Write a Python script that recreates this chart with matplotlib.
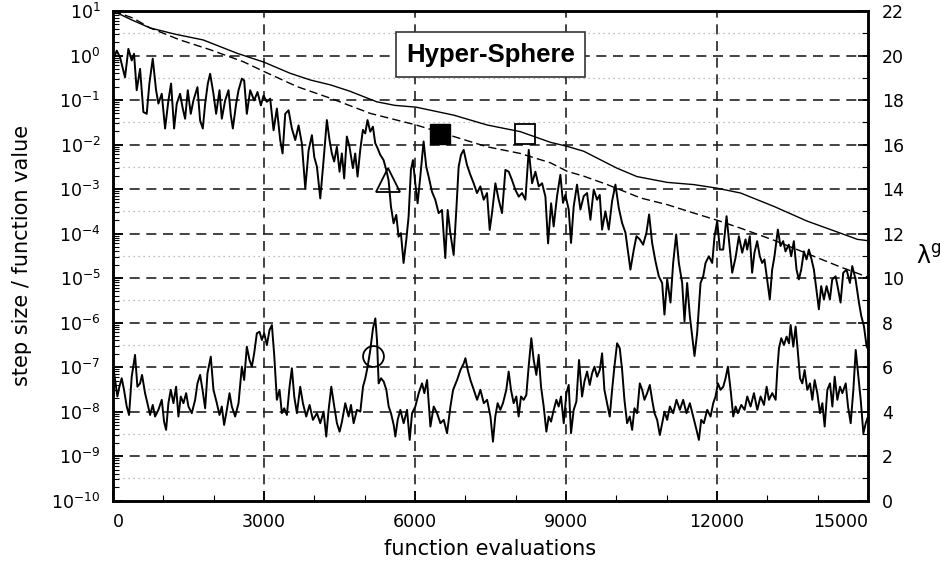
import numpy as np
import matplotlib
matplotlib.use("Agg")
import matplotlib.pyplot as plt
from matplotlib.ticker import FixedLocator, NullFormatter

plt.rcParams['font.family'] = ['DejaVu Sans']
plt.rcParams['mathtext.fontset'] = 'dejavusans'

# ---- data ----
# function value (log10), noisy curve
f_evals = [0, 73, 139, 238, 305, 371, 417, 470, 537, 603,
           669, 722, 789, 855, 901, 968, 1034, 1100, 1153, 1213,
           1266, 1332, 1385, 1432, 1485, 1544, 1597, 1677, 1730, 1783,
           1830, 1883, 1929, 1995, 2048, 2115, 2161, 2227, 2294, 2340,
           2380, 2446, 2493, 2559, 2605, 2658, 2725, 2804, 2870, 2937,
           2990, 3056, 3122, 3189, 3255, 3321, 3368, 3421, 3487, 3553,
           3620, 3686, 3752, 3819, 3885, 3951, 3998, 4051, 4117, 4183,
           4248, 4301, 4347, 4393, 4447, 4500, 4546, 4592, 4645, 4698,
           4765, 4811, 4858, 4911, 4964, 5010, 5056, 5110, 5163, 5209,
           5255, 5308, 5375, 5428, 5474, 5521, 5574, 5627, 5673, 5719,
           5772, 5826, 5872, 5918, 5958, 6005, 6051, 6104, 6170, 6223,
           6270, 6336, 6402, 6469, 6535, 6601, 6648, 6701, 6767, 6820,
           6866, 6913, 6966, 7032, 7099, 7165, 7231, 7297, 7364, 7430,
           7483, 7529, 7596, 7662, 7728, 7795, 7861, 7927, 7994, 8060,
           8126, 8192, 8259, 8325, 8391, 8458, 8524, 8590, 8643, 8703,
           8754, 8821, 8887, 8940, 8986, 9053, 9099, 9152, 9218, 9285,
           9351, 9417, 9484, 9550, 9616, 9669, 9716, 9782, 9848, 9915,
           9981, 10047, 10113, 10180, 10226, 10279, 10346, 10399, 10465, 10531,
           10597, 10650, 10710, 10776, 10843, 10909, 10955, 11009, 11075, 11128,
           11188, 11241, 11307, 11353, 11406, 11459, 11506, 11552, 11605, 11672,
           11725, 11771, 11837, 11904, 11950, 12003, 12056, 12122, 12189, 12235,
           12301, 12368, 12434, 12500, 12566, 12598, 12651, 12697, 12743, 12797,
           12850, 12896, 12942, 12995, 13048, 13095, 13141, 13208, 13261, 13314,
           13360, 13426, 13473, 13526, 13579, 13625, 13672, 13725, 13778, 13824,
           13871, 13924, 13977, 14023, 14069, 14123, 14176, 14242, 14288, 14355,
           14401, 14454, 14507, 14573, 14640, 14686, 14752, 14819, 14865, 14918,
           14971, 15000]
f_log10 = [-0.11, 0.11, -0.04, -0.49, 0.15, -0.11, 0.04, -0.78, -0.30, -1.27,
           -1.31, -0.63, -0.07, -0.78, -1.08, -0.86, -1.64, -1.01, -0.63, -1.64,
           -1.08, -0.86, -1.19, -1.42, -0.78, -1.31, -1.01, -0.71, -1.46, -1.64,
           -1.08, -0.63, -0.41, -0.86, -1.31, -0.78, -1.42, -1.01, -0.78, -1.34,
           -1.64, -1.08, -0.78, -0.52, -0.56, -1.31, -0.78, -1.01, -0.82, -1.12,
           -0.90, -1.04, -0.97, -1.68, -1.19, -1.90, -2.20, -1.31, -1.23, -1.64,
           -1.90, -1.57, -1.98, -2.99, -2.13, -1.79, -2.28, -2.50, -3.21, -2.35,
           -1.45, -1.90, -2.20, -2.38, -2.05, -2.61, -2.20, -2.76, -1.82, -2.05,
           -2.53, -2.20, -2.72, -2.12, -1.67, -1.75, -1.45, -1.71, -1.60, -1.97,
           -2.08, -2.23, -2.35, -2.57, -2.80, -3.39, -3.77, -3.58, -4.07, -3.99,
           -4.66, -4.14, -3.62, -2.57, -2.35, -2.87, -3.32, -2.72, -1.93, -2.50,
           -2.72, -3.06, -3.24, -3.54, -3.47, -4.55, -3.47, -3.99, -4.48, -3.47,
           -2.50, -2.23, -2.12, -2.46, -2.68, -2.87, -3.09, -2.94, -3.24, -3.09,
           -3.92, -3.54, -2.87, -3.24, -3.54, -2.57, -2.61, -2.80, -3.02, -3.17,
           -3.09, -3.24, -2.12, -2.87, -2.61, -2.94, -2.87, -3.17, -4.22, -3.32,
           -3.84, -3.16, -2.68, -3.31, -3.13, -3.46, -4.21, -3.39, -2.90, -3.46,
           -3.16, -3.09, -3.69, -3.01, -3.24, -3.13, -3.91, -3.50, -3.91, -3.27,
           -2.90, -3.42, -3.76, -3.98, -4.36, -4.81, -4.36, -4.06, -4.13, -4.25,
           -3.98, -3.57, -4.21, -4.62, -4.96, -5.11, -5.82, -5.03, -5.55, -4.66,
           -4.02, -4.66, -5.11, -5.97, -5.11, -5.85, -6.30, -6.75, -6.23, -5.11,
           -4.96, -4.66, -4.51, -4.66, -4.06, -3.72, -4.36, -4.36, -3.61, -4.13,
           -4.88, -4.54, -4.06, -4.43, -4.13, -4.36, -4.06, -4.88, -4.43, -4.17,
           -4.51, -4.66, -4.58, -5.03, -5.48, -4.81, -4.51, -3.91, -4.28, -4.17,
           -4.40, -4.25, -4.51, -4.17, -4.81, -5.03, -4.81, -4.40, -4.58, -4.36,
           -4.55, -4.81, -5.29, -5.70, -5.18, -5.48, -5.18, -5.48, -5.03, -4.96,
           -5.22, -5.55, -4.88, -4.81, -5.11, -4.73, -5.03, -5.55, -5.85, -6.08,
           -6.53, -6.60]

# step size curves (log10)
solid_evals = [0, 370, 735, 1230, 1790, 2465, 3000, 3520, 3920, 4320, 4700,
               5240, 5600, 6020, 6770, 7430, 8090, 8690, 9020, 9350, 10010,
               10410, 11010, 11540, 12000, 12470, 13130, 13790, 14450, 14790, 15000]
solid_log10 = [1.00, 0.80, 0.62, 0.48, 0.35, 0.05, -0.15, -0.40, -0.55, -0.66, -0.80,
               -1.04, -1.12, -1.16, -1.34, -1.56, -1.71, -1.95, -2.04, -2.15, -2.53,
               -2.72, -2.85, -2.90, -2.98, -3.09, -3.39, -3.72, -3.99, -4.13, -4.16]
dash_evals = [0, 400, 735, 1330, 1930, 2590, 3000, 3660, 4320, 5110, 6020, 6770,
              7430, 8090, 8690, 9020, 9350, 9820, 10480, 11010, 11540, 12000,
              12470, 13130, 13790, 14450, 15000]
dash_log10 = [1.00, 0.84, 0.62, 0.35, 0.13, -0.14, -0.36, -0.70, -0.96, -1.30, -1.56, -1.82,
              -2.05, -2.20, -2.41, -2.60, -2.71, -2.90, -3.20, -3.35, -3.54, -3.70,
              -3.88, -4.15, -4.45, -4.75, -4.98]

# lambda^g (right axis)
lam_evals = [0, 40, 86, 126, 172, 218, 272, 318, 371, 437,
             484, 537, 576, 636, 683, 736, 789, 835, 901, 968,
             1014, 1054, 1100, 1147, 1200, 1253, 1299, 1346, 1399, 1452,
             1498, 1564, 1631, 1677, 1730, 1783, 1830, 1876, 1942, 1995,
             2062, 2115, 2161, 2207, 2261, 2314, 2360, 2426, 2493, 2559,
             2605, 2658, 2711, 2758, 2804, 2857, 2910, 2957, 3003, 3056,
             3109, 3156, 3202, 3255, 3308, 3354, 3401, 3454, 3507, 3553,
             3600, 3653, 3719, 3772, 3838, 3905, 3971, 4051, 4117, 4183,
             4236, 4283, 4336, 4395, 4448, 4501, 4548, 4614, 4680, 4727,
             4780, 4846, 4913, 4966, 5012, 5058, 5111, 5164, 5211, 5244,
             5277, 5324, 5377, 5430, 5476, 5522, 5576, 5609, 5655, 5708,
             5774, 5841, 5894, 5940, 6006, 6073, 6139, 6185, 6239, 6305,
             6371, 6437, 6504, 6570, 6636, 6703, 6756, 6835, 6902, 6968,
             7001, 7047, 7100, 7167, 7233, 7299, 7366, 7432, 7498, 7548,
             7594, 7641, 7694, 7747, 7813, 7860, 7906, 7959, 8012, 8058,
             8105, 8158, 8211, 8257, 8310, 8357, 8410, 8456, 8503, 8556,
             8609, 8655, 8702, 8755, 8808, 8854, 8900, 8954, 9007, 9053,
             9099, 9152, 9205, 9258, 9318, 9365, 9418, 9471, 9517, 9564,
             9617, 9670, 9716, 9762, 9815, 9868, 9915, 9961, 10014, 10067,
             10114, 10160, 10213, 10266, 10313, 10359, 10412, 10465, 10512, 10558,
             10611, 10664, 10710, 10757, 10810, 10863, 10909, 10956, 11009, 11062,
             11128, 11194, 11261, 11327, 11393, 11460, 11526, 11592, 11639, 11685,
             11738, 11804, 11871, 11924, 11970, 12017, 12070, 12123, 12169, 12216,
             12269, 12322, 12368, 12414, 12481, 12547, 12600, 12666, 12733, 12799,
             12865, 12932, 12985, 13031, 13097, 13164, 13197, 13230, 13276, 13329,
             13382, 13429, 13462, 13515, 13561, 13608, 13648, 13694, 13740, 13793,
             13846, 13893, 13939, 13992, 14045, 14092, 14138, 14191, 14244, 14291,
             14337, 14390, 14443, 14490, 14556, 14602, 14655, 14708, 14755, 14801,
             14854, 14907, 14954, 15000]
lam_vals = [6.10, 5.42, 4.68, 5.12, 5.50, 4.98, 4.23, 3.85, 5.57, 6.55,
            5.12, 5.27, 5.65, 4.83, 4.38, 3.85, 4.30, 3.78, 4.08, 4.53,
            3.55, 3.18, 4.38, 4.98, 4.38, 5.12, 3.78, 4.68, 4.38, 4.83,
            4.23, 3.93, 4.53, 5.27, 5.65, 4.90, 4.15, 5.72, 6.47, 4.98,
            4.38, 3.85, 4.23, 3.40, 4.08, 4.83, 4.23, 3.78, 4.38, 6.02,
            5.42, 6.92, 6.32, 6.02, 6.62, 7.52, 7.59, 7.22, 7.52, 6.99,
            7.67, 7.89, 6.55, 4.53, 4.98, 3.93, 4.15, 3.85, 5.12, 5.95,
            4.68, 3.93, 5.12, 4.38, 3.78, 4.30, 3.63, 3.93, 3.48, 4.00,
            2.88, 4.08, 5.12, 4.23, 3.48, 3.10, 3.55, 4.38, 3.78, 4.30,
            3.48, 4.08, 4.00, 5.12, 5.50, 6.02, 6.77, 7.74, 8.19, 7.22,
            5.27, 5.50, 5.35, 4.98, 4.23, 3.93, 3.40, 2.88, 3.63, 4.08,
            3.48, 4.08, 2.73, 3.93, 4.23, 4.83, 5.27, 4.83, 5.42, 3.33,
            4.23, 3.93, 3.48, 3.63, 3.03, 4.23, 4.98, 5.42, 5.87, 6.17,
            6.40, 5.87, 5.42, 4.98, 4.53, 4.98, 4.38, 4.53, 3.78, 2.65,
            3.78, 4.38, 4.08, 4.38, 4.98, 5.80, 4.98, 4.38, 4.68, 3.78,
            4.68, 4.53, 4.75, 6.02, 7.30, 6.32, 5.65, 6.55, 5.12, 4.23,
            3.10, 3.78, 3.55, 4.08, 4.53, 4.23, 4.68, 3.48, 4.83, 5.20,
            3.03, 4.08, 4.45, 6.32, 4.68, 5.35, 5.80, 5.20, 5.72, 6.02,
            5.57, 5.87, 6.62, 4.98, 4.38, 3.78, 4.98, 6.02, 7.07, 6.85,
            5.87, 4.53, 3.48, 3.78, 3.18, 4.15, 3.93, 5.27, 4.98, 4.53,
            4.83, 5.20, 4.53, 3.93, 3.63, 2.95, 3.48, 4.00, 3.63, 4.23,
            3.93, 4.53, 4.08, 4.53, 3.93, 4.38, 3.78, 3.18, 2.73, 3.63,
            3.48, 4.08, 3.78, 4.38, 4.68, 5.27, 4.98, 5.12, 5.50, 6.02,
            4.98, 3.78, 4.23, 3.93, 4.30, 4.08, 4.68, 4.23, 4.83, 4.08,
            4.68, 4.30, 5.12, 4.53, 4.83, 4.53, 5.87, 6.85, 7.30, 6.99,
            7.37, 7.07, 7.89, 6.92, 7.82, 6.62, 5.50, 5.27, 5.87, 4.98,
            5.27, 4.53, 5.42, 4.83, 3.93, 4.38, 3.33, 4.98, 5.27, 4.23,
            5.57, 4.53, 5.12, 4.83, 5.27, 4.23, 3.48, 4.98, 6.77, 5.72,
            4.53, 3.03, 3.48, 3.78]

# markers
fill_sq = (6500, 10 ** -1.76)
open_sq = (8190, 10 ** -1.76)
tri_pt = (5470, 10 ** -2.79)
circ_pt = (5160, 6.52)

x_ticks = [0, 3000, 6000, 9000, 12000, 15000]
title = "Hyper-Sphere"

# ---- figure ----
fig = plt.figure(figsize=(9.42, 5.67), dpi=100)
ax = fig.add_axes([0.12, 0.117, 0.8015, 0.8636])
ax.set_yscale('log')
ax.set_xlim(0, 15000)
ax.set_ylim(1e-10, 1e1)

# grid
for k in range(-9, 1):
    ax.axhline(10.0 ** k, color='#222222', lw=1.2, ls=(0, (6, 4)), zorder=1)
for k in range(-10, 1):
    ax.axhline(10.0 ** (k + 0.5), color='#aaaaaa', lw=0.9, ls=(0, (1, 3)), zorder=1)
for xv in x_ticks[1:-1]:
    ax.axvline(xv, color='#222222', lw=1.2, ls=(0, (6, 4)), zorder=1)

ax.plot(solid_evals, 10 ** np.array(solid_log10), color='black', lw=1.0, zorder=3)
ax.plot(dash_evals, 10 ** np.array(dash_log10), color='black', lw=1.0,
        ls=(0, (6, 3)), zorder=3)
ax.plot(f_evals, 10 ** np.array(f_log10), color='black', lw=1.4, zorder=3)

ax.plot(*fill_sq, marker='s', ms=15, color='black', zorder=5)
ax.plot(*open_sq, marker='s', ms=15, mfc='none', mec='black', mew=1.3, zorder=5)
ax.plot(*tri_pt, marker='^', ms=17, mfc='none', mec='black', mew=1.3, zorder=5)

yt = [10.0 ** k for k in range(-10, 2)]
ax.yaxis.set_major_locator(FixedLocator(yt))
ax.set_yticklabels([r'$10^{%d}$' % k for k in range(-10, 2)])
minor = [m * 10.0 ** k for k in range(-10, 1) for m in range(2, 10)]
ax.yaxis.set_minor_locator(FixedLocator(minor))
ax.yaxis.set_minor_formatter(NullFormatter())
ax.set_xticks(x_ticks)
ax.set_xticklabels([str(v) for v in x_ticks])
ax.set_xticks(range(0, 15001, 1000), minor=True)
xl = ax.get_xticklabels()
xl[0].set_horizontalalignment('left')
xl[-1].set_horizontalalignment('right')

ax.tick_params(axis='both', which='major', direction='in', length=7, width=1.2,
               labelsize=12.5)
ax.tick_params(axis='both', which='minor', direction='in', length=4, width=0.8)
ax.tick_params(axis='y', which='major', pad=9)
ax.tick_params(axis='x', which='major', pad=9)
ax.tick_params(axis='y', which='both', right=False)

for s in ax.spines.values():
    s.set_linewidth(1.8)

ax2 = ax.twinx()
ax2.set_ylim(0, 22)
ax2.plot(lam_evals, lam_vals, color='black', lw=1.4, zorder=3)
ax2.plot(*circ_pt, marker='o', ms=15, mfc='none', mec='black', mew=1.3, zorder=5)
ax2.set_yticks(range(0, 23, 2))
ax2.set_yticks(range(1, 22, 2), minor=True)
ax2.tick_params(axis='y', which='major', direction='in', length=7, width=1.2,
                labelsize=12.5, pad=10)
ax2.tick_params(axis='y', which='minor', direction='in', length=4, width=0.8)
for s in ax2.spines.values():
    s.set_linewidth(1.8)

ax.set_xlabel('function evaluations', fontsize=15, labelpad=6)
ax.set_ylabel('step size / function value', fontsize=15, labelpad=14)
fig.text(0.972, 1 - 257 / 567, r'λ$^\mathrm{g}$', fontsize=17, ha='left', va='center')

ax.text(7500, 10 ** 0.02, title, fontsize=18.5, fontweight='bold',
        family=['Liberation Sans', 'DejaVu Sans'], ha='center', va='center',
        zorder=6,
        bbox=dict(boxstyle='square,pad=0.4', fc='white', ec='#333333', lw=1.2))

fig.savefig('out.png', dpi=100)
